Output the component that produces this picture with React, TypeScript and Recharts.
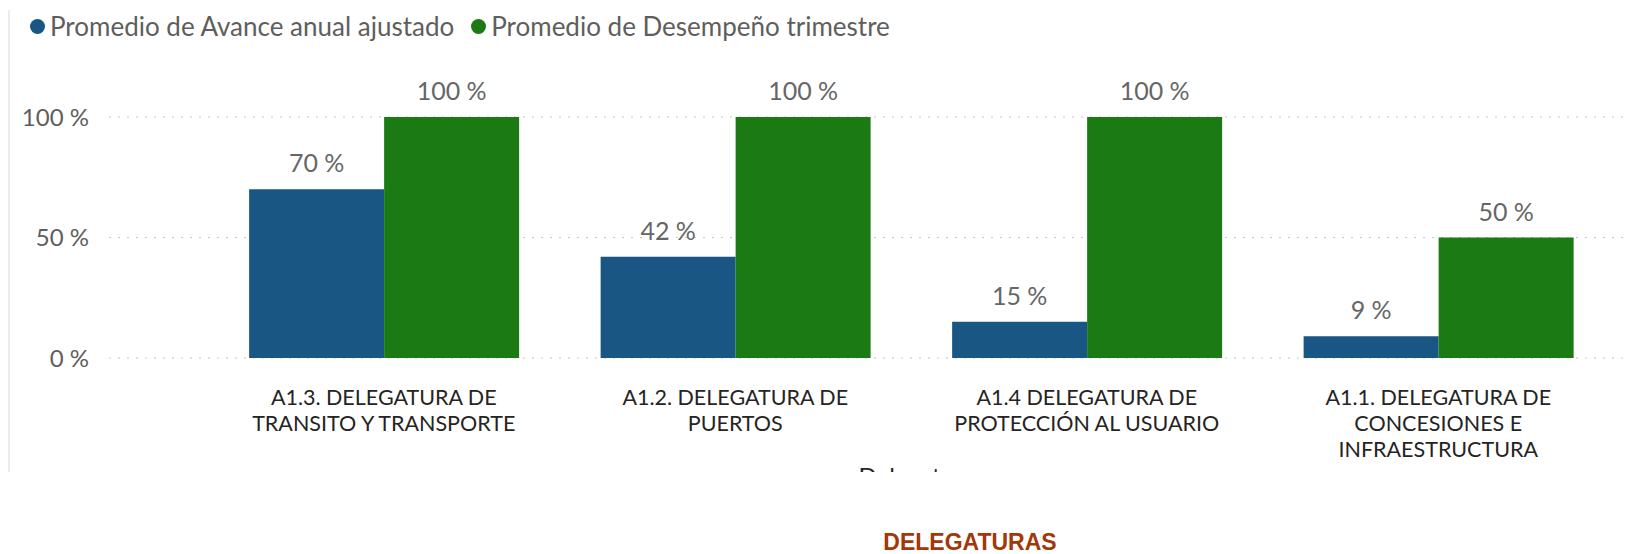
import React from 'react';
import { BarChart, Bar, XAxis, YAxis, CartesianGrid, Legend, LabelList } from 'recharts';

const categories = [
  'A1.3. DELEGATURA DE TRANSITO Y TRANSPORTE',
  'A1.2. DELEGATURA DE PUERTOS',
  'A1.4 DELEGATURA DE PROTECCIÓN AL USUARIO',
  'A1.1. DELEGATURA DE CONCESIONES E INFRAESTRUCTURA',
];
const avanceAnual = [70, 42, 15, 9];
const desempenoTrimestre = [100, 100, 100, 50];
const yTicks = [0, 50, 100];

const seriesNames = ['Promedio de Avance anual ajustado', 'Promedio de Desempeño trimestre'];
const BLUE = '#1a5683';
const GREEN = '#1c7a15';

const data = categories.map((name, i) => ({
  name,
  avance: avanceAnual[i],
  desempeno: desempenoTrimestre[i],
}));

const FONT = 'Lato, "Noto Sans", sans-serif';

const pct = (v: number) => `${v} %`;

// greedy word wrap by character count
const wrap = (s: string, max: number) => {
  const lines: string[] = [];
  let cur = '';
  s.split(' ').forEach((w) => {
    if (cur && (cur + ' ' + w).length > max) {
      lines.push(cur);
      cur = w;
    } else {
      cur = cur ? cur + ' ' + w : w;
    }
  });
  if (cur) lines.push(cur);
  return lines;
};

const CategoryTick = (props: any) => {
  const { x, y, payload } = props;
  const lines = wrap(String(payload.value), 22);
  return (
    <text x={x} y={y} textAnchor="middle" fontSize={21.5} fontFamily={FONT} fill="#252423">
      {lines.map((l, i) => (
        <tspan key={i} x={x} dy={i === 0 ? 15 : 26}>
          {l}
        </tspan>
      ))}
    </text>
  );
};

const LegendContent = () => (
  <div
    style={{
      height: 117,
      boxSizing: 'border-box',
      paddingTop: 10,
      paddingLeft: 30,
      fontFamily: FONT,
      fontSize: 26,
      color: '#605e5c',
    }}
  >
    <div style={{ display: 'flex', alignItems: 'center' }}>
      <span style={{ width: 15, height: 15, borderRadius: '50%', background: BLUE, marginRight: 5 }} />
      <span>{seriesNames[0]}</span>
      <span style={{ width: 15, height: 15, borderRadius: '50%', background: GREEN, marginLeft: 17, marginRight: 5 }} />
      <span>{seriesNames[1]}</span>
    </div>
  </div>
);

export default function App() {
  return (
    <div style={{ position: 'absolute', left: 0, top: 0, width: 1632, height: 554, background: '#fff', overflow: 'hidden' }}>
      <div style={{ position: 'absolute', left: 8, top: 10, width: 2, height: 462, background: '#ececec' }} />
      <div style={{ position: 'absolute', left: 0, top: 0, width: 1632, height: 472, overflow: 'hidden' }}>
        <BarChart
          width={1632}
          height={510}
          data={data}
          margin={{ top: 0, right: 8, left: 0, bottom: 32 }}
          barCategoryGap="11.7%"
          barGap={0}
        >
          <CartesianGrid vertical={false} stroke="#c6c6c6" strokeDasharray="2 7" />
          <XAxis
            dataKey="name"
            axisLine={false}
            tickLine={false}
            tickSize={6}
            tickMargin={26}
            height={120}
            padding={{ left: 99, right: 10 }}
            interval={0}
            tick={<CategoryTick />}
            label={{ value: 'Delegatura', position: 'insideTop', offset: 110, dx: 50, fontSize: 24, fontFamily: FONT, fill: '#252423' }}
          />
          <YAxis
            domain={[0, 100]}
            ticks={yTicks}
            tickFormatter={pct}
            axisLine={false}
            tickLine={false}
            tickSize={6}
            tickMargin={14}
            width={109}
            tick={{ fontSize: 24, fontFamily: FONT, fill: '#605e5c' }}
          />
          <Legend verticalAlign="top" align="left" content={<LegendContent />} />
          <Bar dataKey="avance" name={seriesNames[0]} fill={BLUE} isAnimationActive={false}>
            <LabelList dataKey="avance" position="top" offset={17} formatter={pct} fontSize={25} fontFamily={FONT} fill="#666666" />
          </Bar>
          <Bar dataKey="desempeno" name={seriesNames[1]} fill={GREEN} isAnimationActive={false}>
            <LabelList dataKey="desempeno" position="top" offset={17} formatter={pct} fontSize={25} fontFamily={FONT} fill="#666666" />
          </Bar>
        </BarChart>
      </div>
      <div
        style={{
          position: 'absolute',
          left: 770,
          top: 531,
          width: 400,
          textAlign: 'center',
          fontFamily: '"Liberation Sans", Arial, sans-serif',
          fontWeight: 'bold',
          fontSize: 23,
          lineHeight: '23px',
          color: '#a33708',
        }}
      >
        DELEGATURAS
      </div>
    </div>
  );
}
